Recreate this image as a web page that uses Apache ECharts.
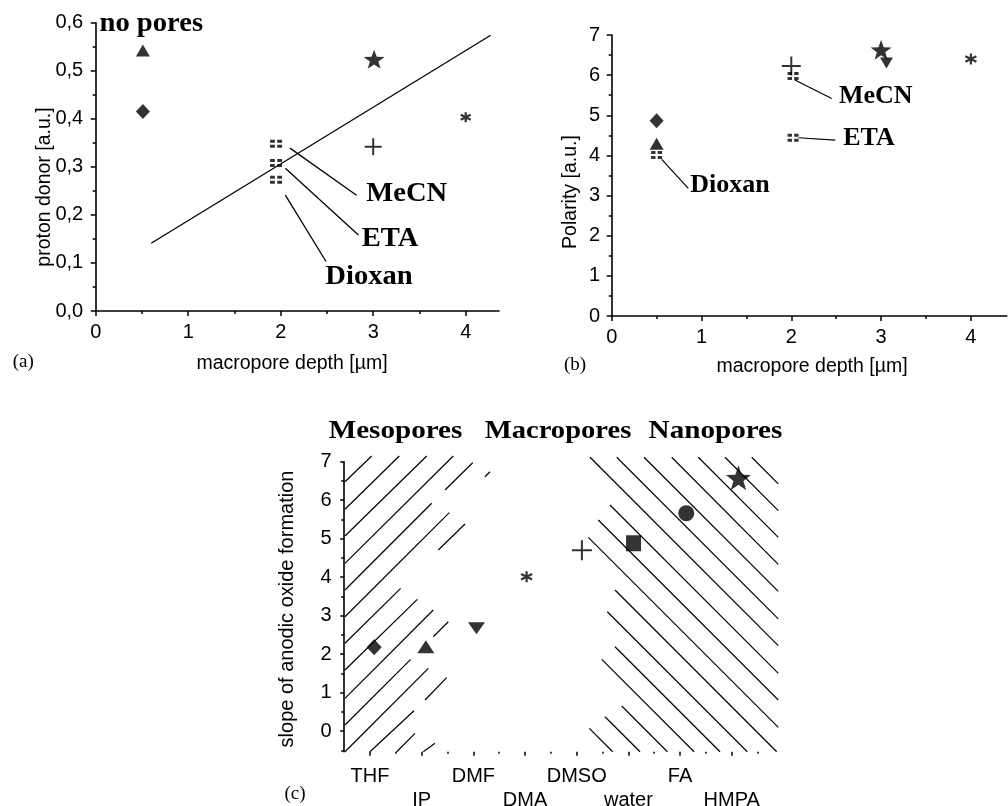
<!DOCTYPE html>
<html><head><meta charset="utf-8">
<script src="https://cdn.jsdelivr.net/npm/echarts@6/dist/echarts.min.js"></script>
<style>html,body{margin:0;padding:0;background:#fff}#c{width:1008px;height:806px}</style>
</head><body><div id="c"></div>
<script>
// ---------------- Panel (a): proton donor vs macropore depth ----------------
const aTriangle = [[0.51, 0.542]];
const aDiamond = [[0.51, 0.415]];
const aStar = [[3.01, 0.524]];
const aPlus = [[3.0, 0.342]];
const aAsterisk = [[4.0, 0.403]];
const aSquares = [[1.95, 0.348], [1.95, 0.308], [1.95, 0.273]];   // MeCN, ETA, Dioxan
const aFitLine = [[0.6, 0.141], [4.27, 0.574]];
const aLeaderMeCN = [[2.10, 0.339], [2.82, 0.241]];
const aLeaderETA = [[2.05, 0.297], [2.84, 0.158]];
const aLeaderDioxan = [[2.05, 0.241], [2.49, 0.103]];
const aXTicks = [0, 1, 2, 3, 4];
const aXMinor = [0.5, 1.5, 2.5, 3.5];
const aYTicks = [0, 0.1, 0.2, 0.3, 0.4, 0.5, 0.6];
const aYMinor = [0.05, 0.15, 0.25, 0.35, 0.45, 0.55];

// ---------------- Panel (b): polarity vs macropore depth ----------------
const bDiamond = [[0.5, 4.865]];
const bTriangle = [[0.5, 4.29]];
const bSquares = [[0.5, 4.01], [2.02, 5.98], [2.02, 4.44]];     // Dioxan, MeCN, ETA
const bPlus = [[2.0, 6.23]];
const bStar = [[3.0, 6.63]];
const bDownTriangle = [[3.06, 6.30]];
const bAsterisk = [[4.0, 6.40]];
const bLeaderMeCN = [[2.04, 5.88], [2.45, 5.42]];
const bLeaderETA = [[2.08, 4.44], [2.49, 4.38]];
const bLeaderDioxan = [[0.557, 3.90], [0.853, 3.18]];
const bXTicks = [0, 1, 2, 3, 4];
const bXMinor = [0.5, 1.5, 2.5, 3.5];
const bYTicks = [0, 1, 2, 3, 4, 5, 6, 7];
const bYMinor = [0.5, 1.5, 2.5, 3.5, 4.5, 5.5, 6.5];

// ---------------- Panel (c): slope of anodic oxide formation per solvent ----------------
const cCategories = ['THF', 'IP', 'DMF', 'DMA', 'DMSO', 'water', 'FA', 'HMPA'];
const cDiamond = [[1.08, 2.18]];
const cTriangle = [[2.08, 2.19]];
const cDownTriangle = [[3.06, 2.67]];
const cAsterisk = [[4.03, 4.01]];
const cPlus = [[5.10, 4.70]];
const cSquare = [[6.10, 4.88]];
const cCircle = [[7.12, 5.66]];
const cStar = [[8.13, 6.58]];
const cXTicks = [1, 2, 3, 4, 5, 6, 7, 8];
const cXMinor = [1.5, 2.5, 3.5, 4.5, 5.5, 6.5, 7.5, 8.5];
const cYTicks = [0, 1, 2, 3, 4, 5, 6, 7];
const cYMinor = [-0.5, 0.5, 1.5, 2.5, 3.5, 4.5, 5.5, 6.5];
// hatching of the mesopore region ("/" strokes)
const cMesoHatch = [
  [[0.515, 6.480], [1.032, 7.148]],
  [[0.515, 5.763], [1.566, 7.148]],
  [[0.515, 5.069], [2.097, 7.148]],
  [[0.515, 4.359], [2.611, 7.148]],
  [[0.515, 3.665], [2.193, 5.919]],
  [[2.451, 6.265], [2.987, 6.974]],
  [[0.515, 2.971], [2.534, 5.675]],
  [[3.225, 6.610], [3.322, 6.740]],
  [[0.515, 2.280], [1.593, 3.709]],
  [[2.321, 4.705], [2.838, 5.381]],
  [[0.515, 1.586], [1.915, 3.423]],
  [[0.515, 0.850], [2.224, 3.145]],
  [[0.515, 0.156], [1.787, 1.864]],
  [[2.224, 2.451], [2.515, 2.841]],
  [[0.515, -0.538], [2.128, 1.630]],
  [[0.999, -0.538], [1.851, 0.528]],
  [[2.064, 0.806], [2.484, 1.386]],
  [[1.516, -0.538], [1.870, -0.060]],
  [[2.031, -0.538], [2.257, -0.320]]
];
// hatching of the nanopore region ("\" strokes)
const cNanoHatch = [
  [[8.387, 7.115], [8.901, 6.423]],
  [[7.870, 7.115], [8.901, 5.729]],
  [[7.353, 7.115], [8.901, 5.035]],
  [[6.838, 7.115], [8.901, 4.333]],
  [[6.302, 7.115], [8.901, 3.631]],
  [[5.774, 7.115], [8.901, 2.914]],
  [[5.257, 7.115], [8.901, 2.220]],
  [[5.644, 5.875], [8.901, 1.500]],
  [[5.418, 5.485], [8.901, 0.806]],
  [[5.224, 5.035], [8.901, 0.096]],
  [[5.741, 3.665], [8.870, -0.538]],
  [[5.592, 3.101], [8.301, -0.538]],
  [[5.741, 2.191], [7.773, -0.538]],
  [[5.484, 1.864], [7.272, -0.538]],
  [[5.871, 0.650], [6.755, -0.538]],
  [[5.547, 0.372], [6.225, -0.538]],
  [[5.244, 0.070], [5.696, -0.538]]
];

// ---------------- styling ----------------
const SANS = "'Liberation Sans', Arial, sans-serif";
const SERIF = "'Liberation Serif', 'Times New Roman', serif";
const BLACK = '#000';
const STAR = 'path://M50,0 L61.76,33.82 L97.55,34.55 L69.02,56.18 L79.39,90.45 L50,70 L20.61,90.45 L30.98,56.18 L2.45,34.55 L38.24,33.82 Z';
const PLUS = 'path://M0,50 L100,50 M50,0 L50,100';
const ASTER = 'path://M50,0 L50,100 M6.7,25 L93.3,75 M6.7,75 L93.3,25';
const SQ4 = 'path://M0,0 L40,0 L40,38 L0,38 Z M60,0 L100,0 L100,38 L60,38 Z M0,62 L40,62 L40,100 L0,100 Z M60,62 L100,62 L100,100 L60,100 Z';
const DOWNTRI = 'path://M0,0 L100,0 L50,90 Z';

function axisPair(gridIndex, min, max, major, minor, position, fmt, margin, showLine, majorLen, minorLen, lineHeight) {
  const main = {
    type: 'value', gridIndex, min, max, position,
    axisLine: { show: showLine, onZero: false, lineStyle: { color: BLACK, width: 1.6 } },
    splitLine: { show: false },
    minorTick: { show: false },
    axisTick: { show: true, customValues: major, length: majorLen, lineStyle: { color: BLACK, width: 1.5 } },
    axisLabel: { show: true, customValues: major, formatter: fmt, margin, color: BLACK,
      fontFamily: SANS, fontSize: 20, lineHeight: lineHeight || 22, hideOverlap: false }
  };
  const sub = {
    type: 'value', gridIndex, min, max, position,
    axisLine: { show: false, onZero: false },
    splitLine: { show: false },
    axisTick: { show: true, customValues: minor, length: minorLen, lineStyle: { color: BLACK, width: 1.5 } },
    axisLabel: { show: false }
  };
  return [main, sub];
}

const fmtComma = v => Number(v).toFixed(1).replace('.', ',');
const fmtInt = v => String(Math.round(v));
const fmtCat = v => { const i = Math.round(v) - 1; return (i % 2 === 1 ? '\n' : '') + cCategories[i]; };

const xAxes = [
  ...axisPair(0, 0, 4.36, aXTicks, aXMinor, 'bottom', fmtInt, 10, true, 5, 3),
  ...axisPair(1, 0, 4.4, bXTicks, bXMinor, 'bottom', fmtInt, 10, true, 5, 3),
  ...axisPair(2, 0.5, 9, cXTicks, cXMinor, 'bottom', fmtCat, 13, false, 4, 2, 24)
];
const yAxes = [
  ...axisPair(0, 0, 0.6, aYTicks, aYMinor, 'left', fmtComma, 12.5, true, 5, 3),
  ...axisPair(1, 0, 7, bYTicks, bYMinor, 'left', fmtInt, 11.5, true, 5, 3),
  ...axisPair(2, -0.54, 7, cYTicks, cYMinor, 'left', fmtInt, 12.5, true, 4, 3)
];
// second axis of each pair is the minor-tick axis; series use the main axes (0,2,4)

function scatter(data, axis, symbol, size, extra) {
  const s = {
    type: 'scatter', xAxisIndex: axis, yAxisIndex: axis, data, symbol, symbolSize: size,
    itemStyle: { color: BLACK }, z: 5, silent: true
  };
  return Object.assign(s, extra || {});
}
const strokeOnly = w => ({ itemStyle: { color: 'none', borderColor: BLACK, borderWidth: w } });
function segs(list, axis, width) {
  return {
    type: 'lines', coordinateSystem: 'cartesian2d', xAxisIndex: axis, yAxisIndex: axis,
    data: list.map(c => ({ coords: c })), clip: false, silent: true, z: 2,
    lineStyle: { color: BLACK, width, opacity: 1 }
  };
}

const series = [
  // (a)
  { type: 'line', xAxisIndex: 0, yAxisIndex: 0, data: aFitLine, symbol: 'none', silent: true,
    lineStyle: { color: BLACK, width: 1.3 }, z: 3 },
  segs([aLeaderMeCN, aLeaderETA, aLeaderDioxan], 0, 1.3),
  scatter(aTriangle, 0, 'triangle', [14, 12]),
  scatter(aDiamond, 0, 'diamond', [14, 15]),
  scatter(aStar, 0, STAR, [21, 19]),
  scatter(aPlus, 0, PLUS, [17, 17], strokeOnly(2)),
  scatter(aAsterisk, 0, ASTER, [10, 10], strokeOnly(2.2)),
  scatter(aSquares, 0, SQ4, [12, 8]),
  // (b)
  segs([bLeaderMeCN, bLeaderETA, bLeaderDioxan], 2, 1.2),
  scatter(bDiamond, 2, 'diamond', [14, 15]),
  scatter(bTriangle, 2, 'triangle', [14, 12]),
  scatter(bSquares, 2, SQ4, [11, 8]),
  scatter(bPlus, 2, PLUS, [19, 19], strokeOnly(2)),
  scatter(bStar, 2, STAR, [21, 20]),
  scatter(bDownTriangle, 2, DOWNTRI, [13, 11]),
  scatter(bAsterisk, 2, ASTER, [11, 11], strokeOnly(2.2)),
  // (c)
  segs(cMesoHatch, 4, 1.2),
  segs(cNanoHatch, 4, 1.2),
  scatter(cDiamond, 4, 'diamond', [15, 16]),
  scatter(cTriangle, 4, 'triangle', [17, 13]),
  scatter(cDownTriangle, 4, DOWNTRI, [17, 12]),
  scatter(cAsterisk, 4, ASTER, [11, 11], strokeOnly(2.2)),
  scatter(cPlus, 4, PLUS, [20, 20], strokeOnly(2)),
  scatter(cSquare, 4, 'rect', [15, 16]),
  scatter(cCircle, 4, 'circle', [16, 16]),
  scatter(cStar, 4, STAR, [25, 25])
];

function txt(text, x, y, font, opts) {
  const o = Object.assign({ align: 'center', verticalAlign: 'middle', rotation: 0, scaleX: 1 }, opts || {});
  return {
    type: 'text', x, y, rotation: o.rotation, scaleX: o.scaleX, silent: true, z: 10,
    style: { text, font, fill: BLACK, align: o.align, verticalAlign: o.verticalAlign,
      textAlign: o.align, textVerticalAlign: o.verticalAlign }
  };
}
const boldSerif = s => 'bold ' + s + 'px ' + SERIF;
const plainSerif = s => s + 'px ' + SERIF;
const sans = s => s + 'px ' + SANS;

const graphics = [
  // (a)
  txt('no pores', 151.3, 24, boldSerif(27), { scaleX: 1.06 }),
  txt('MeCN', 406.7, 194, boldSerif(27), { scaleX: 1.06 }),
  txt('ETA', 390, 239, boldSerif(27), { scaleX: 1.06 }),
  txt('Dioxan', 369, 277.5, boldSerif(27), { scaleX: 1.06 }),
  txt('macropore depth [µm]', 292, 364, sans(19.5)),
  txt('proton donor [a.u.]', 45, 187, sans(19.5), { rotation: Math.PI / 2 }),
  txt('(a)', 23.3, 362.5, plainSerif(19)),
  // (b)
  txt('MeCN', 875.8, 96, boldSerif(26)),
  txt('ETA', 869, 138, boldSerif(26)),
  txt('Dioxan', 730, 185, boldSerif(26)),
  txt('macropore depth [µm]', 812, 367, sans(19.5)),
  txt('Polarity [a.u.]', 571, 192, sans(19.5), { rotation: Math.PI / 2 }),
  txt('(b)', 575, 365, plainSerif(19)),
  // (c)
  txt('Mesopores', 395.5, 431, boldSerif(26), { scaleX: 1.12 }),
  txt('Macropores', 558, 431, boldSerif(26), { scaleX: 1.1 }),
  txt('Nanopores', 715.5, 431, boldSerif(26), { scaleX: 1.12 }),
  txt('slope of anodic oxide formation', 287.5, 609, sans(20), { rotation: Math.PI / 2 }),
  txt('(c)', 295, 794, plainSerif(19))
];

const chart = echarts.init(document.getElementById('c'), null, { renderer: 'canvas' });
chart.setOption({
  animation: false,
  backgroundColor: '#fff',
  grid: [
    { left: 95.7, top: 22.7, width: 403.3, height: 288.3, containLabel: false, outerBoundsMode: 'none' },
    { left: 611.7, top: 35, width: 395.1, height: 281, containLabel: false, outerBoundsMode: 'none' },
    { left: 344.2, top: 461.7, width: 439.2, height: 290.1, containLabel: false, outerBoundsMode: 'none' }
  ],
  xAxis: xAxes,
  yAxis: yAxes,
  series,
  graphic: graphics
});
</script></body></html>
